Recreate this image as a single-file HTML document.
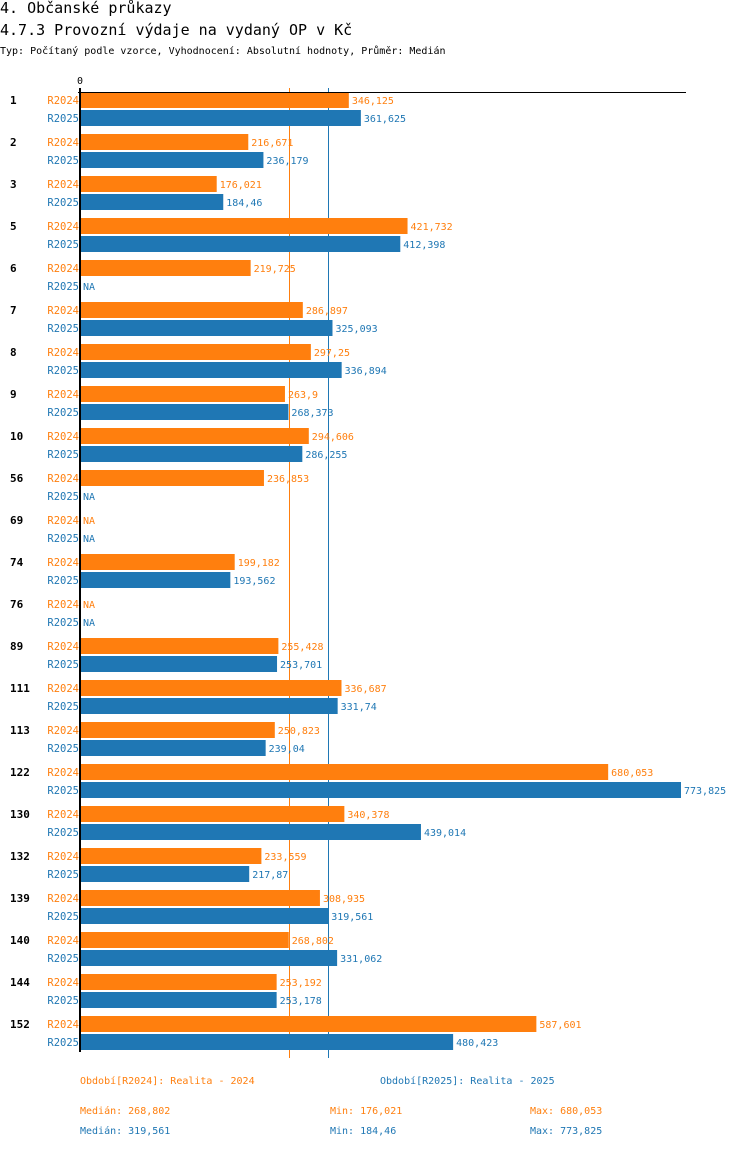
<!DOCTYPE html>
<html><head><meta charset="utf-8"><style>
body{margin:0;background:#fff;width:750px;height:1148px;overflow:hidden;font-family:"DejaVu Sans Mono","Liberation Mono",monospace;}
</style></head><body>
<svg width="750" height="1148" xmlns="http://www.w3.org/2000/svg" font-family="DejaVu Sans Mono, Liberation Mono, monospace">
<text x="0" y="13" font-size="15">4. Občanské průkazy</text>
<text x="0" y="35" font-size="15">4.7.3 Provozní výdaje na vydaný OP v Kč</text>
<text x="0" y="54" font-size="10">Typ: Počítaný podle vzorce, Vyhodnocení: Absolutní hodnoty, Průměr: Medián</text>
<g id="chart"></g>
<g font-size="10">
<text x="80" y="1084" fill="#ff7f0e">Období[R2024]: Realita - 2024</text>
<text x="380" y="1084" fill="#1f77b4">Období[R2025]: Realita - 2025</text>
<text x="80" y="1114" fill="#ff7f0e">Medián: 268,802</text>
<text x="330" y="1114" fill="#ff7f0e">Min: 176,021</text>
<text x="530" y="1114" fill="#ff7f0e">Max: 680,053</text>
<text x="80" y="1134" fill="#1f77b4">Medián: 319,561</text>
<text x="330" y="1134" fill="#1f77b4">Min: 184,46</text>
<text x="530" y="1134" fill="#1f77b4">Max: 773,825</text>
</g>
</svg>
<script>
const categories=["1","2","3","5","6","7","8","9","10","56","69","74","76","89","111","113","122","130","132","139","140","144","152"];
const r2024=[346.125,216.671,176.021,421.732,219.725,286.897,297.25,263.9,294.606,236.853,null,199.182,null,255.428,336.687,250.823,680.053,340.378,233.559,308.935,268.802,253.192,587.601];
const r2025=[361.625,236.179,184.46,412.398,null,325.093,336.894,268.373,286.255,null,null,193.562,null,253.701,331.74,239.04,773.825,439.014,217.87,319.561,331.062,253.178,480.423];
const medians=[268.802,319.561];
const NS="http://www.w3.org/2000/svg";
const g=document.getElementById('chart');
const x0=80,scale=601/773.825;
const xs=v=>x0+v*scale;
const yc=i=>100+42*i;
const fmt=v=>String(v).replace('.',',');
function mk(t,a,txt){const e=document.createElementNS(NS,t);for(const k in a)e.setAttribute(k,a[k]);if(txt!==undefined)e.textContent=txt;g.appendChild(e);return e;}
const cols=["#ff7f0e","#1f77b4"];
medians.forEach((m,s)=>{
 const l=mk('line',{x1:Math.round(xs(m))+0.5,x2:Math.round(xs(m))+0.5,y1:88,y2:1058,stroke:cols[s],'stroke-width':1});
 
 
});
categories.forEach((c,i)=>{
 const t=mk('text',{x:10,y:yc(i)+4,'font-size':11,'font-weight':'bold'},c);
 
 
 [r2024,r2025].forEach((arr,s)=>{
  const y=yc(i)+s*18, v=arr[i];
  const l=mk('text',{x:79,y:y+4,'font-size':10.5,fill:cols[s],'text-anchor':'end'},s?'R2025':'R2024');
  
  
  if(v!==null){
   const r=mk('rect',{x:x0,y:y-8,width:xs(v)-x0,height:16,fill:cols[s]});
   
   
  }
  const vt=mk('text',{x:(v!==null?xs(v):x0)+3,y:y+4,'font-size':10,fill:cols[s]},v!==null?fmt(v):'NA');
  
  
 });
});
const ax=mk('line',{x1:x0,x2:x0,y1:88,y2:1052,stroke:'#000','stroke-width':2});


const tx=mk('line',{x1:x0-2,x2:686,y1:92.5,y2:92.5,stroke:'#000','stroke-width':1});


const z=mk('text',{x:x0,y:84,'font-size':10,'text-anchor':'middle'},'0');


</script>
</body></html>
